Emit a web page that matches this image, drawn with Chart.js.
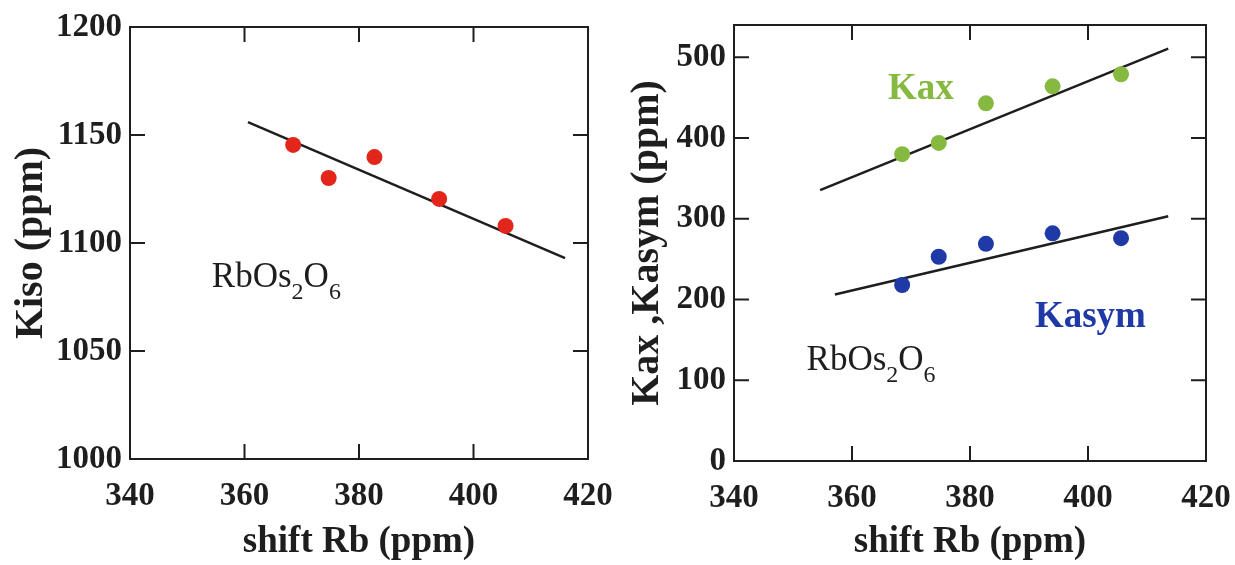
<!DOCTYPE html>
<html>
<head>
<meta charset="utf-8">
<script src="https://cdn.jsdelivr.net/npm/chart.js@4"></script>
<style>
  body { margin: 0; background: #fff; }
  #wrapKiso { position: absolute; left: 0; top: 0; }
  #wrapK { position: absolute; left: 620px; top: 0; }
</style>
</head>
<body>
<div id="wrapKiso"><canvas id="chartKiso" width="620" height="565"></canvas></div>
<div id="wrapK"><canvas id="chartK" width="615" height="565"></canvas></div>
<script>
// values (RbOs2O6)
const shiftRb = [368.5, 374.7, 382.7, 394.0, 405.6];
const kiso    = [1145.4, 1130.1, 1139.8, 1120.4, 1107.9];
const kax     = [380, 394, 443, 464, 479];
const kasym   = [218, 253, 269, 282, 276];

// straight fits as drawn: start and end
const kisoFitX  = [360.6, 416.0];
const kisoFitY  = [1156.0, 1093.0];
const kaxFitX   = [354.6, 413.6];
const kaxFitY   = [335.4, 510.8];
const kasymFitX = [357.1, 413.6];
const kasymFitY = [206.3, 303.2];

const xTicks    = [340, 360, 380, 400, 420];
const kisoTicks = [1000, 1050, 1100, 1150, 1200];
const kTicks    = [0, 100, 200, 300, 400, 500];
const kMax      = 540;

const serif = "'Liberation Serif', 'Times New Roman', serif";
const ink   = '#1e1e1e';
const red   = '#e2261c';
const green = '#85b93f';
const blue  = '#1f3aa6';

function pts(xs, ys) {
	return xs.map((x, i) => ({ x: x, y: ys[i] }));
}

function xAxis(ticks, height, title) {
	return {
		type: 'linear',
		min: ticks[0],
		max: ticks[ticks.length - 1],
		afterBuildTicks: s => { s.ticks = ticks.map(v => ({ value: v })); },
		afterFit: s => { s.height = height; s.paddingLeft = 0; s.paddingRight = 0; },
		grid: { display: false, drawTicks: false },
		border: { display: false },
		ticks: { color: ink, padding: 18, maxRotation: 0, autoSkip: false,
			callback: v => String(v),
			font: { family: serif, size: 33, weight: 'bold' } },
		title: { display: true, text: title, color: ink, padding: { top: 3, bottom: 0 },
			font: { family: serif, size: 37, weight: 'bold' } }
	};
}

function yAxis(ticks, max, width, title, titlePad) {
	return {
		type: 'linear',
		min: ticks[0],
		max: max,
		afterBuildTicks: s => { s.ticks = ticks.map(v => ({ value: v })); },
		afterFit: s => { s.width = width; s.paddingTop = 0; s.paddingBottom = 0; },
		grid: { display: false, drawTicks: false },
		border: { display: false },
		ticks: { color: ink, padding: 8, autoSkip: false,
			callback: v => String(v),
			font: { family: serif, size: 33, weight: 'bold' } },
		title: { display: true, text: title, color: ink, padding: { top: titlePad, bottom: 0 },
			font: { family: serif, size: 40, weight: 'bold' } }
	};
}

// box frame with inward ticks, plus the text labels inside the plot
const framePlugin = {
	id: 'frame',
	afterDatasetsDraw(chart, args, opts) {
		const { ctx, chartArea: a, scales } = chart;
		const tl = 15;
		ctx.save();
		ctx.strokeStyle = ink;
		ctx.lineWidth = 2;
		ctx.strokeRect(a.left, a.top, a.right - a.left, a.bottom - a.top);
		ctx.beginPath();
		scales.x.ticks.forEach(t => {
			const px = scales.x.getPixelForValue(t.value);
			if (px <= a.left + 1 || px >= a.right - 1) return;
			ctx.moveTo(px, a.bottom); ctx.lineTo(px, a.bottom - tl);
			ctx.moveTo(px, a.top); ctx.lineTo(px, a.top + tl);
		});
		scales.y.ticks.forEach(t => {
			const py = scales.y.getPixelForValue(t.value);
			if (py <= a.top + 1 || py >= a.bottom - 1) return;
			ctx.moveTo(a.left, py); ctx.lineTo(a.left + tl, py);
			ctx.moveTo(a.right, py); ctx.lineTo(a.right - tl, py);
		});
		ctx.stroke();

		ctx.textBaseline = 'alphabetic';
		ctx.textAlign = 'left';
		(opts.labels || []).forEach(l => {
			let px = scales.x.getPixelForValue(l.x);
			const py = scales.y.getPixelForValue(l.y);
			ctx.fillStyle = l.color;
			l.parts.forEach(p => {
				const sub = p[1];
				ctx.font = (l.bold ? 'bold ' : '') + (sub ? Math.round(l.size * 0.68) : l.size) + 'px ' + serif;
				ctx.fillText(p[0], px, sub ? py + l.size * 0.33 : py);
				px += ctx.measureText(p[0]).width;
			});
		});
		ctx.restore();
	}
};

const formula = [['RbOs', false], ['2', true], ['O', false], ['6', true]];

let GraficaKiso = new Chart(document.getElementById('chartKiso'), {
	type: 'scatter',
	data: {
		datasets: [
			{
				data: pts(shiftRb, kiso),
				backgroundColor: red,
				borderWidth: 0,
				pointRadius: 8,
			},
			{
				data: pts(kisoFitX, kisoFitY),
				showLine: true,
				borderColor: ink,
				borderWidth: 2.5,
				pointRadius: 0,
			},
		],
	},
	options: {
		responsive: false,
		animation: false,
		layout: { padding: { top: 27, right: 32, left: 0, bottom: 0 } },
		scales: {
			x: xAxis(xTicks, 106, 'shift Rb (ppm)'),
			y: yAxis(kisoTicks, kisoTicks[kisoTicks.length - 1], 130, 'Kiso (ppm)', 8),
		},
		plugins: {
			legend: { display: false },
			tooltip: { enabled: false },
			frame: {
				labels: [
					{ x: 354.3, y: 1079.6, size: 35, bold: false, color: ink, parts: formula },
				],
			},
		},
	},
	plugins: [framePlugin],
});

let GraficaK = new Chart(document.getElementById('chartK'), {
	type: 'scatter',
	data: {
		datasets: [
			{
				data: pts(shiftRb, kax),
				backgroundColor: green,
				borderWidth: 0,
				pointRadius: 8,
			},
			{
				data: pts(shiftRb, kasym),
				backgroundColor: blue,
				borderWidth: 0,
				pointRadius: 8,
			},
			{
				data: pts(kaxFitX, kaxFitY),
				showLine: true,
				borderColor: ink,
				borderWidth: 2.5,
				pointRadius: 0,
			},
			{
				data: pts(kasymFitX, kasymFitY),
				showLine: true,
				borderColor: ink,
				borderWidth: 2.5,
				pointRadius: 0,
			},
		],
	},
	options: {
		responsive: false,
		animation: false,
		layout: { padding: { top: 25, right: 29, left: 0, bottom: 0 } },
		scales: {
			x: xAxis(xTicks, 104, 'shift Rb (ppm)'),
			y: yAxis(kTicks, kMax, 114, 'Kax ,Kasym (ppm)', 4),
		},
		plugins: {
			legend: { display: false },
			tooltip: { enabled: false },
			frame: {
				labels: [
					{ x: 366.1, y: 448, size: 37, bold: true, color: green, parts: [['Kax', false]] },
					{ x: 391.0, y: 166, size: 37, bold: true, color: blue, parts: [['Kasym', false]] },
					{ x: 352.3, y: 112.6, size: 35, bold: false, color: ink, parts: formula },
				],
			},
		},
	},
	plugins: [framePlugin],
});
</script>
</body>
</html>
